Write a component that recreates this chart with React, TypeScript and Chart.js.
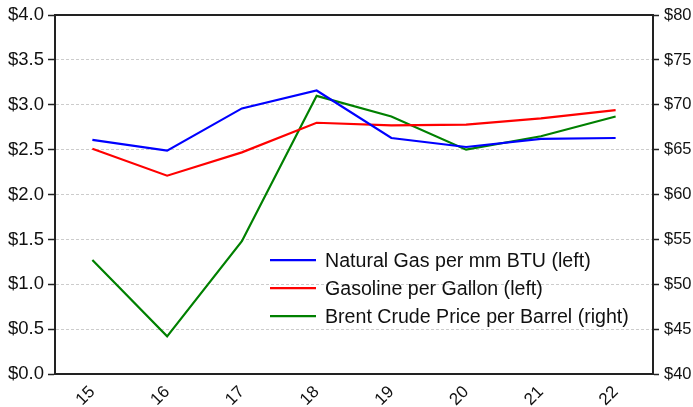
import React, { useEffect, useRef } from "react";
import { Chart, registerables } from "chart.js";

Chart.register(...registerables);

const categories = ["15", "16", "17", "18", "19", "20", "21", "22"];
const naturalGas = [2.61, 2.49, 2.96, 3.16, 2.63, 2.53, 2.62, 2.63];
const gasoline = [2.51, 2.21, 2.47, 2.8, 2.77, 2.78, 2.85, 2.94];
const brentCrude = [52.7, 44.2, 54.8, 71.0, 68.7, 65.0, 66.5, 68.7];
const seriesLabels = [
  "Natural Gas per mm BTU (left)",
  "Gasoline per Gallon (left)",
  "Brent Crude Price per Barrel (right)",
];
const seriesColors = ["#0000FF", "#FF0000", "#008000"];

const FONT = "'Liberation Sans', Arial, sans-serif";

const framePlugin = {
  id: "frame",
  beforeDatasetsDraw(chart: any) {
    const { ctx, chartArea } = chart;
    ctx.save();
    ctx.strokeStyle = "#222";
    ctx.lineWidth = 2;
    ctx.beginPath();
    ctx.moveTo(chartArea.left, chartArea.top);
    ctx.lineTo(chartArea.right, chartArea.top);
    ctx.stroke();
    ctx.restore();
  },
};

const legendPlugin = {
  id: "innerLegend",
  afterDatasetsDraw(chart: any) {
    const { ctx, chartArea } = chart;
    const x0 = chartArea.left + 215;
    const y0 = chartArea.top + 245;
    const rowH = 28;
    ctx.save();
    ctx.font = `19.6px ${FONT}`;
    ctx.textBaseline = "middle";
    ctx.textAlign = "left";
    chart.data.datasets.forEach((ds: any, i: number) => {
      const y = y0 + i * rowH;
      ctx.strokeStyle = ds.borderColor;
      ctx.lineWidth = 2.2;
      ctx.beginPath();
      ctx.moveTo(x0, y);
      ctx.lineTo(x0 + 46, y);
      ctx.stroke();
      ctx.fillStyle = "#111";
      ctx.fillText(ds.label, x0 + 55, y + 1);
    });
    ctx.restore();
  },
};

export default function App() {
  const ref = useRef<HTMLCanvasElement>(null);
  useEffect(() => {
    if (!ref.current) return;
    const mk = (i: number, data: number[], axis: string) => ({
      label: seriesLabels[i],
      data,
      borderColor: seriesColors[i],
      backgroundColor: seriesColors[i],
      borderWidth: 2.2,
      pointRadius: 0,
      tension: 0,
      yAxisID: axis,
    });
    const chart = new Chart(ref.current, {
      type: "line",
      data: {
        labels: categories,
        datasets: [
          mk(0, naturalGas, "y"),
          mk(1, gasoline, "y"),
          mk(2, brentCrude, "y1"),
        ],
      },
      options: {
        animation: false,
        responsive: false,
        maintainAspectRatio: false,
        layout: { padding: { top: 15, left: 0, right: 0, bottom: 0 } },
        plugins: {
          legend: { display: false },
          tooltip: { enabled: false },
        },
        scales: {
          x: {
            offset: true,
            grid: { display: false, drawTicks: false },
            border: { display: true, color: "#222", width: 2 },
            ticks: {
              color: "#111",
              font: { family: FONT, size: 17 },
              maxRotation: 45,
              minRotation: 45,
              padding: 8,
            },
            afterFit(scale: any) {
              scale.height = 33;
            },
          },
          y: {
            position: "left",
            min: 0,
            max: 4,
            grid: {
              color: "#cccccc",
              lineWidth: 1,
              tickColor: "#222",
              tickLength: 7,
              tickWidth: 1.5,
            },
            border: { display: true, color: "#222", width: 2, dash: [3, 2] },
            ticks: {
              stepSize: 0.5,
              color: "#111",
              font: { family: FONT, size: 18.5 },
              padding: 4,
              callback: (v: any) => "$" + Number(v).toFixed(1),
            },
            afterFit(scale: any) {
              scale.width = 55;
            },
          },
          y1: {
            position: "right",
            min: 40,
            max: 80,
            grid: {
              drawOnChartArea: false,
              tickColor: "#222",
              tickLength: 6,
              tickWidth: 1.5,
            },
            border: { display: true, color: "#222", width: 2 },
            ticks: {
              stepSize: 5,
              color: "#111",
              font: { family: FONT, size: 16.5 },
              padding: 5,
              callback: (v: any) => "$" + v,
            },
            afterFit(scale: any) {
              scale.width = 40;
            },
          },
        },
      },
      plugins: [framePlugin, legendPlugin],
    });
    return () => chart.destroy();
  }, []);
  return (
    <div style={{ position: "absolute", left: 0, top: 0, width: 693, height: 407, background: "#fff" }}>
      <canvas ref={ref} width={693} height={407} />
    </div>
  );
}
